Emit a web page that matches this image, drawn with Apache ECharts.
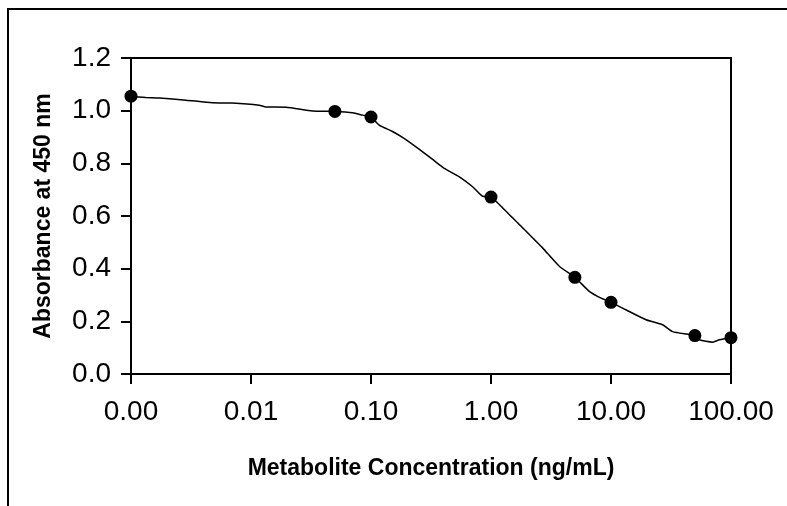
<!DOCTYPE html>
<html>
<head>
<meta charset="utf-8">
<script src="https://cdn.jsdelivr.net/npm/echarts@6/dist/echarts.min.js"></script>
<style>
  html, body { margin: 0; padding: 0; background: #fff; }
  #chart { width: 787px; height: 506px; }
</style>
</head>
<body>
<div id="chart"></div>
<script>
// Measured standards (markers)
const concentrations = [0.001, 0.05, 0.1, 1, 5, 10, 50, 100];
const absorbance = [1.055, 0.997, 0.976, 0.672, 0.367, 0.272, 0.146, 0.138];

// Curve drawn through the standards
const curveX = [0.001, 0.00133, 0.00172, 0.00287, 0.00476, 0.00698, 0.0117, 0.0133, 0.0196, 0.0326,
  0.05, 0.0703, 0.0851, 0.1, 0.117, 0.151, 0.19, 0.253, 0.326, 0.408, 0.545, 0.703, 0.851, 1,
  1.29, 1.96, 2.69, 3.71, 5, 6.59, 8.26, 10, 13.3, 19.6, 26.9, 32.6, 50, 54.5, 70.3, 80, 100];
const curveY = [1.054, 1.050, 1.048, 1.040, 1.030, 1.029, 1.021, 1.014, 1.013, 0.999,
  0.997, 0.992, 0.983, 0.976, 0.945, 0.921, 0.894, 0.853, 0.815, 0.781, 0.749, 0.711, 0.675, 0.672,
  0.625, 0.542, 0.479, 0.409, 0.367, 0.314, 0.288, 0.272, 0.244, 0.206, 0.187, 0.161, 0.146, 0.130, 0.121, 0.130, 0.138];

const xTickLabels = ['0.00', '0.01', '0.10', '1.00', '10.00', '100.00'];
const yTickLabels = ['0.0', '0.2', '0.4', '0.6', '0.8', '1.0', '1.2'];

const xTitle = 'Metabolite Concentration (ng/mL)';
const yTitle = 'Absorbance at 450 nm';

const FONT = "'Liberation Sans', Arial, sans-serif";

const chart = echarts.init(document.getElementById('chart'), null, { renderer: 'canvas' });
chart.setOption({
  animation: false,
  backgroundColor: '#fff',
  graphic: [{
    type: 'rect',
    shape: { x: 8, y: 9, width: 900, height: 600 },
    style: { fill: 'none', stroke: '#000', lineWidth: 2 },
    z: 0
  }],
  grid: {
    left: 131, right: 56, top: 58, bottom: 132,
    show: true, borderColor: '#000', borderWidth: 2, backgroundColor: 'transparent'
  },
  xAxis: {
    type: 'log',
    logBase: 10,
    min: 0.001,
    max: 100,
    splitNumber: 5,
    name: xTitle,
    nameLocation: 'middle',
    nameGap: 83,
    nameTextStyle: { fontFamily: FONT, fontWeight: 'bold', fontSize: 23, color: '#000' },
    axisLine: { show: true, lineStyle: { color: '#000', width: 2 } },
    axisTick: { show: true, inside: false, length: 10, lineStyle: { color: '#000', width: 2 } },
    minorTick: { show: false },
    splitLine: { show: false },
    axisLabel: {
      fontFamily: FONT, fontSize: 28, color: '#000', margin: 24,
      formatter: function (v) {
        const i = Math.round(Math.log10(v)) + 3;
        return xTickLabels[i] !== undefined ? xTickLabels[i] : '';
      }
    }
  },
  yAxis: {
    type: 'value',
    min: 0,
    max: 1.2,
    interval: 0.2,
    name: yTitle,
    nameLocation: 'middle',
    nameGap: 76,
    nameRotate: 90,
    nameTextStyle: { fontFamily: FONT, fontWeight: 'bold', fontSize: 23, color: '#000' },
    axisLine: { show: true, lineStyle: { color: '#000', width: 2 } },
    axisTick: { show: true, inside: false, length: 10, lineStyle: { color: '#000', width: 2 } },
    splitLine: { show: false },
    axisLabel: {
      fontFamily: FONT, fontSize: 28, color: '#000', margin: 20,
      formatter: function (v) {
        const i = Math.round(v / 0.2);
        return yTickLabels[i] !== undefined ? yTickLabels[i] : '';
      }
    }
  },
  series: [
    {
      name: 'curve',
      type: 'line',
      data: curveX.map((x, i) => [x, curveY[i]]),
      showSymbol: false,
      smooth: 0.2,
      lineStyle: { color: '#000', width: 1.5 },
      z: 2
    },
    {
      name: 'standards',
      type: 'scatter',
      data: concentrations.map((x, i) => [x, absorbance[i]]),
      symbol: 'circle',
      symbolSize: 13,
      itemStyle: { color: '#000', opacity: 1 },
      z: 3
    }
  ]
});
</script>
</body>
</html>
